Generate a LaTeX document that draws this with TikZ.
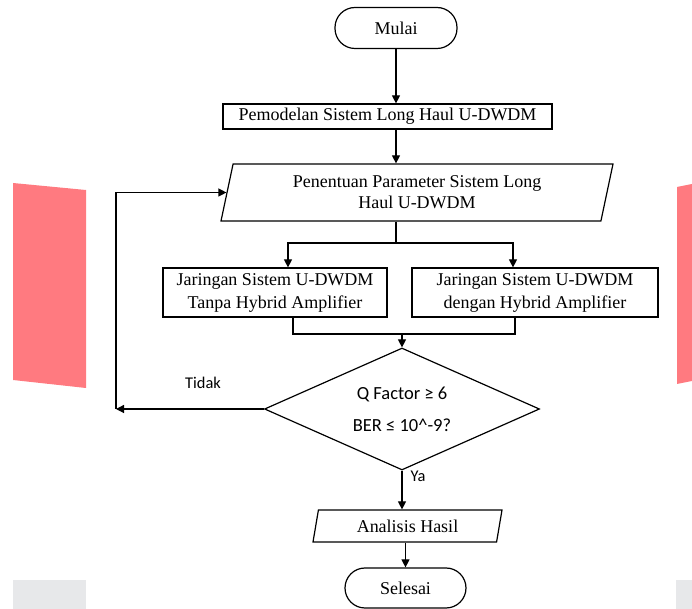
\documentclass[tikz,border=0pt]{standalone}
\usepackage{fontspec}
\setmainfont{Liberation Serif}
\setsansfont{Carlito}
\usepackage{tikz}
\usetikzlibrary{shapes,arrows.meta}

\definecolor{bandpink}{RGB}{255,122,128}
\definecolor{bandgrey}{RGB}{231,232,234}

\begin{document}
\begin{tikzpicture}[x=0.5pt,y=-0.5pt,line width=0.6pt,
      arr/.style={-{Triangle[length=4pt,width=4pt]}},
      terminal/.style={draw,rounded corners=10pt,inner sep=1pt,font=\fontsize{9}{10.5}\selectfont},
      process/.style={draw,rectangle,inner sep=1pt,align=center,font=\fontsize{9}{11.5}\selectfont},
      io/.style={draw,trapezium,trapezium left angle=72,trapezium right angle=108,trapezium stretches body,inner sep=1pt,align=center,font=\fontsize{9}{10.5}\selectfont},
      decision/.style={draw,diamond,aspect=2.25,inner sep=0pt,align=center,font=\sffamily\fontsize{9.25}{16}\selectfont},
      lbl/.style={inner sep=0pt,font=\sffamily\fontsize{8.2}{9}\selectfont}]
         \useasboundingbox (0,0) rectangle (692,609);
         % background bands
         \fill[bandpink] (13,183) -- (86,190) -- (86,388) -- (13,380) -- cycle;
         \fill[bandpink] (677,187) -- (692,184) -- (692,381) -- (677,384) -- cycle;
         \fill[bandgrey] (13,580) rectangle (86,609);
         \fill[bandgrey] (676,580) rectangle (692,609);
         % blocks
         \node[terminal,minimum width=61pt,minimum height=20.5pt] (mulai) at (396,28) {Mulai};
         \node[process,minimum width=164.5pt,minimum height=12.5pt] (model) at (387.5,116.5) {Pemodelan Sistem Long Haul U-DWDM};
         \node[io,minimum width=196pt,minimum height=28.5pt] (param) at (417,192.5) {Penentuan Parameter Sistem Long\\Haul U-DWDM};
         \node[process,minimum width=112pt,minimum height=24.5pt] (tanpa) at (275,292.5) {Jaringan Sistem U-DWDM\\Tanpa Hybrid Amplifier};
         \node[process,minimum width=123pt,minimum height=24.5pt] (dengan) at (535,292.5) {Jaringan Sistem U-DWDM\\dengan Hybrid Amplifier};
         \node[decision,minimum width=137.5pt,minimum height=61pt] (cek) at (402,409) {Q Factor ≥ 6\\BER ≤ 10\textasciicircum-9?};
         \node[io,minimum width=94.5pt,minimum height=16pt] (hasil) at (407.5,526) {Analisis Hasil};
         \node[terminal,minimum width=60.5pt,minimum height=20pt] (selesai) at (405.5,588) {Selesai};
         \node[lbl] (tidak) at (203,383) {Tidak};
         \node[lbl] (ya) at (418,476) {Ya};
         % junction points
         \coordinate (pisah) at (396,243);
         \coordinate (kiri) at (288,243);
         \coordinate (kanan) at (513,243);
         \coordinate (gabungkiri) at (293,334);
         \coordinate (gabungkanan) at (515,334);
         \coordinate (gabung) at (402,334);
         \coordinate (balik) at (116,409);
         % connectors
         \draw[arr] (mulai) -- (mulai |- model.north);
         \draw[arr] (model.south -| mulai) -- (mulai |- param.north);
         \draw (mulai |- param.south) -- (pisah);
         \draw[arr] (pisah) -- (kiri) -- (kiri |- tanpa.north);
         \draw[arr] (pisah) -- (kanan) -- (kanan |- dengan.north);
         \draw (tanpa.south -| gabungkiri) -- (gabungkiri) -- (gabungkanan) -- (dengan.south -| gabungkanan);
         \draw[arr] (gabung) -- (cek.north);
         \draw[arr] (cek.west) -- (balik);
         \draw[arr] (balik) -- (balik |- param.west) -- (param.west);
         \draw[arr] (cek.south) -- (cek.south |- hasil.north);
         \draw[arr] (hasil.south -| selesai) -- (selesai.north);
      \end{tikzpicture}
\end{document}
